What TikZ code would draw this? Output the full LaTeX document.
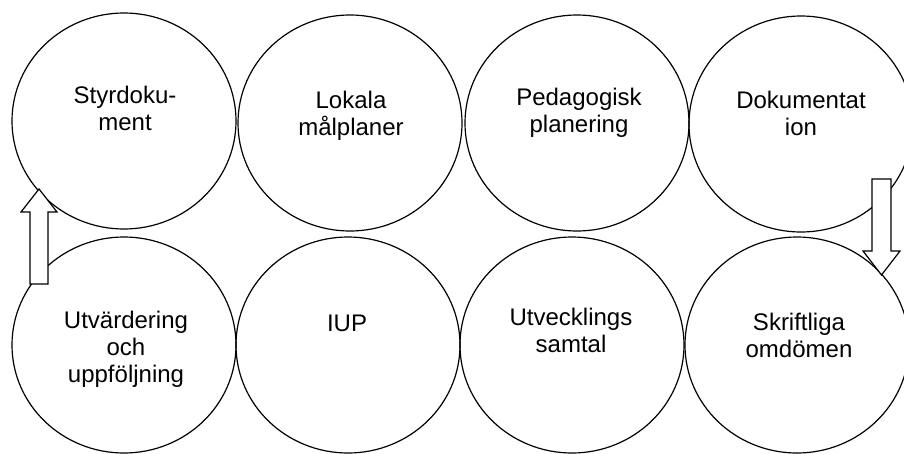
\documentclass[tikz,border=0pt]{standalone}
\usepackage{fontspec}
\setmainfont{Liberation Sans}
\usetikzlibrary{shapes.geometric}
\begin{document}
\begin{tikzpicture}[x=1pt,y=-1pt,line width=1.2pt,
  circ/.style={draw,ellipse,minimum width=224pt,minimum height=216pt,inner sep=0pt},
  lbl/.style={align=center,anchor=base,inner sep=0pt,font=\fontsize{24}{27}\selectfont},
  blockarrow/.style={draw,fill=white,line width=1.2pt,line join=miter}]
\useasboundingbox (0,0) rectangle (904,453);
\clip (0,0) rectangle (904,453);
% top row
\node[circ] (c1) at (124,121) {};
\node[circ] (c2) at (350,123) {};
\node[circ] (c3) at (577,123) {};
\node[circ] (c4) at (801,124) {};
% bottom row
\node[circ] (c5) at (124,345) {};
\node[circ] (c6) at (348,345) {};
\node[circ] (c7) at (572,345) {};
\node[circ] (c8) at (797,345) {};
% labels (base anchor = baseline of the last line)
\node[lbl] (t1) at (125,130) {Styrdoku-\\ment};
\node[lbl] (t2) at (351,135) {Lokala\\målplaner};
\node[lbl] (t3) at (579,132) {Pedagogisk\\planering};
\node[lbl] (t4) at (801,135) {Dokumentat\\ion};
\node[lbl] (t5) at (126,382) {Utvärdering\\och\\uppföljning};
\node[lbl] (t6) at (347,331) {IUP};
\node[lbl] (t7) at (571,352) {Utvecklings\\samtal};
\node[lbl] (t8) at (799,357) {Skriftliga\\omdömen};
% block arrows
\draw[blockarrow] (30,284) -- (30,212) -- (21,212) -- (39,189) -- (57,212) -- (48,212) -- (48,284) -- cycle;
\draw[blockarrow] (872,179) -- (872,251) -- (863,251) -- (881.5,275) -- (900,251) -- (891,251) -- (891,179) -- cycle;
\end{tikzpicture}
\end{document}
